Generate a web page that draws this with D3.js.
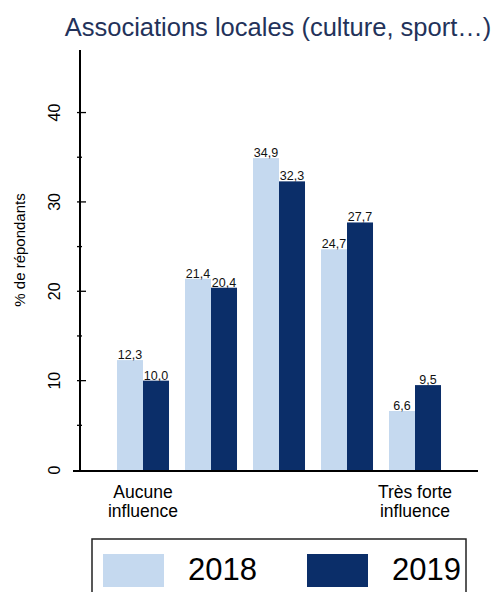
<!DOCTYPE html>
<html>
<head>
<meta charset="utf-8">
<script src="https://cdn.jsdelivr.net/npm/d3@7"></script>
<style>
  body { margin: 0; background: #fff; }
  svg { display: block; font-family: "Liberation Sans", Arial, sans-serif; }
</style>
</head>
<body>
<div id="chart"></div>
<script>
// data
const categories = ["1", "2", "3", "4", "5"];
const years = ["2018", "2019"];
const values2018 = [12.3, 21.4, 34.9, 24.7, 6.6];
const values2019 = [10.0, 20.4, 32.3, 27.7, 9.5];
const yTicks = [0, 10, 20, 30, 40];
const catLabels = [["Aucune", "influence"], null, null, null, ["Très forte", "influence"]];
const title = "Associations locales (culture, sport…)";
const yTitle = "% de répondants";

const colors = { "2018": "#c5d9ef", "2019": "#0b2e69" };

const W = 497, H = 592;
const svg = d3.select("#chart").append("svg")
  .attr("width", W).attr("height", H);

const y = d3.scaleLinear().domain([0, 47]).range([470, 50]);
const x = d3.scaleBand().domain(categories).range([80, 478])
  .paddingInner(0.235).paddingOuter(0.544);
const xs = d3.scaleBand().domain(years).range([0, x.bandwidth()]);

const rows = categories.map((c, i) => ({ cat: c, vals: [values2018[i], values2019[i]] }));

// title
svg.append("text")
  .attr("x", 278).attr("y", 36)
  .attr("text-anchor", "middle")
  .attr("font-size", 25.5)
  .attr("fill", "#23325a")
  .text(title);

// bars
const groups = svg.selectAll(".grp").data(rows).enter().append("g")
  .attr("transform", d => `translate(${x(d.cat)},0)`);

groups.selectAll("rect").data(d => years.map((yr, j) => ({ yr, v: d.vals[j] })))
  .enter().append("rect")
  .attr("x", d => xs(d.yr))
  .attr("width", xs.bandwidth())
  .attr("y", d => y(d.v))
  .attr("height", d => y(0) - y(d.v))
  .attr("fill", d => colors[d.yr]);

groups.selectAll("text.val").data(d => years.map((yr, j) => ({ yr, v: d.vals[j] })))
  .enter().append("text")
  .attr("class", "val")
  .attr("x", d => xs(d.yr) + xs.bandwidth() / 2)
  .attr("y", d => y(d.v) - 1)
  .attr("text-anchor", "middle")
  .attr("font-size", 12.5)
  .attr("fill", "#111")
  .text(d => d.v.toFixed(1).replace(".", ","));

// y axis
svg.append("line")
  .attr("x1", 80).attr("x2", 80)
  .attr("y1", y(0)).attr("y2", 50)
  .attr("stroke", "#000").attr("stroke-width", 2);

svg.selectAll(".minor").data(d3.range(5, 45, 10)).enter().append("line")
  .attr("x1", 77).attr("x2", 82)
  .attr("y1", d => y(d)).attr("y2", d => y(d))
  .attr("stroke", "#000").attr("stroke-width", 1.3);

svg.selectAll(".major").data(yTicks.slice(1)).enter().append("line")
  .attr("x1", 77).attr("x2", 86)
  .attr("y1", d => y(d)).attr("y2", d => y(d))
  .attr("stroke", "#000").attr("stroke-width", 1.3);

svg.selectAll(".ytl").data(yTicks).enter().append("text")
  .attr("transform", d => `translate(60,${y(d)}) rotate(-90)`)
  .attr("text-anchor", "middle")
  .attr("font-size", 16)
  .attr("fill", "#000")
  .text(d => d);

svg.append("text")
  .attr("transform", "translate(25,250) rotate(-90)")
  .attr("text-anchor", "middle")
  .attr("font-size", 15)
  .attr("fill", "#000")
  .text(yTitle);

// x axis line
svg.append("line")
  .attr("x1", 73).attr("x2", 478)
  .attr("y1", y(0) + 1).attr("y2", y(0) + 1)
  .attr("stroke", "#000").attr("stroke-width", 2);

// category labels, two lines each
categories.forEach((c, i) => {
  if (!catLabels[i]) return;
  catLabels[i].forEach((ln, k) => {
    svg.append("text")
      .attr("x", x(c) + x.bandwidth() / 2)
      .attr("y", 498 + k * 19)
      .attr("text-anchor", "middle")
      .attr("font-size", 17.5)
      .attr("fill", "#000")
      .text(ln);
  });
});

// legend
svg.append("rect")
  .attr("x", 92).attr("y", 539)
  .attr("width", 374).attr("height", 70)
  .attr("fill", "none").attr("stroke", "#222").attr("stroke-width", 1.5);

const legX = [103, 307];
years.forEach((yr, i) => {
  svg.append("rect")
    .attr("x", legX[i]).attr("y", 554)
    .attr("width", 61).attr("height", 33)
    .attr("fill", colors[yr]);
  svg.append("text")
    .attr("x", legX[i] + 85).attr("y", 580)
    .attr("font-size", 31)
    .attr("fill", "#000")
    .text(yr);
});
</script>
</body>
</html>
